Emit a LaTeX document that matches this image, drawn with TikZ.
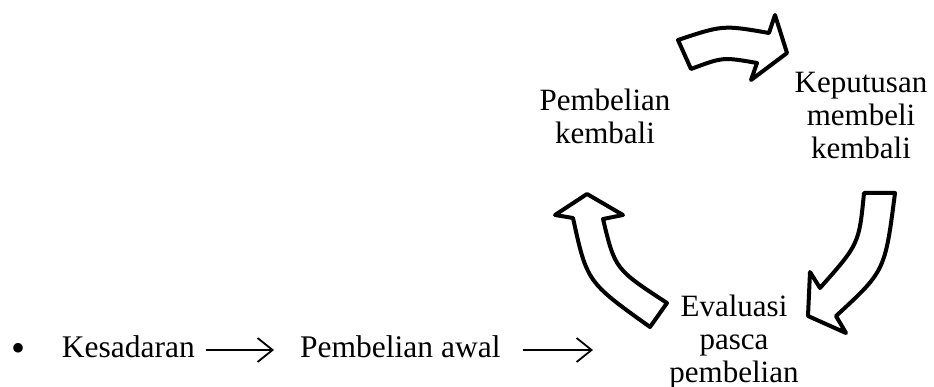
\documentclass[tikz,border=0pt]{standalone}
\usepackage{fontspec}
\setmainfont{Liberation Serif}
\usetikzlibrary{arrows.meta}
\tikzset{
  cyc/.style={font=\fontsize{31}{33}\selectfont, align=center, inner sep=0pt, anchor=base},
  lin/.style={font=\fontsize{31.5}{33}\selectfont, inner sep=0pt, anchor=base west},
  flow/.style={line width=1.8pt, -{Straight Barb[length=15pt,width=24pt,line width=1.8pt]}},
  blockarrow/.style={draw=black, fill=white, line width=4pt, line join=round}
}
\begin{document}
\begin{tikzpicture}[x=1pt,y=-1pt]
\useasboundingbox (0,0) rectangle (934,387);
% bottom line
\node[inner sep=0pt, anchor=base, font=\fontsize{40}{40}\selectfont] (bul) at (18.7,361) {\textbullet};
\node[lin] (kes) at (61.7,357) {Kesadaran};
\node[lin] (awal) at (300,357) {Pembelian awal};
\coordinate (e2) at (593,350);
\draw[flow] ([shift={(11,-7)}]kes.base east) -- ([shift={(-26,-7)}]awal.base west);
\draw[flow] ([shift={(22,-7)}]awal.base east) -- (e2);
% cycle labels (base anchor = last line)
\node[cyc] (pk) at (605,144) {Pembelian\\kembali};
\node[cyc] (kmk) at (861,159) {Keputusan\\membeli\\kembali};
\node[cyc] (ev) at (734,382) {Evaluasi\\pasca\\pembelian};
% top block arrow
\draw[blockarrow] (678,40) .. controls (723,25) .. (769,33) -- (775,15) -- (787,53)
  -- (751,80) -- (757,63) .. controls (723,57) .. (691,69) -- cycle;
% right block arrow (down-left)
\draw[blockarrow] (864,193) -- (895,193) .. controls (885,271) .. (836,316)
  -- (846,333) -- (808,316) -- (810,272) -- (820,288) .. controls (859,244) .. cycle;
% left block arrow (up)
\draw[blockarrow] (587,194) -- (623,215) -- (603,219) .. controls (615,269) .. (667,303)
  -- (650,327) .. controls (587,282) .. (573,218) -- (555,215) -- cycle;
\end{tikzpicture}
\end{document}
